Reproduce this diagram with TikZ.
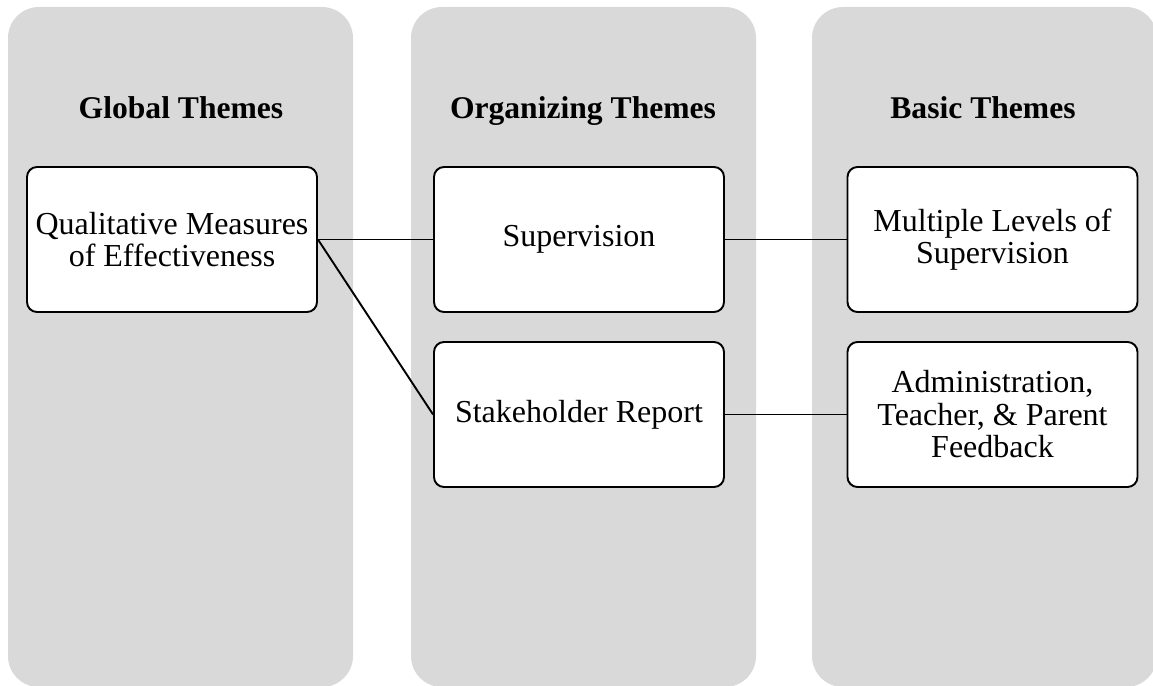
\documentclass[tikz,border=0pt]{standalone}
\usepackage{fontspec}
\setmainfont{Liberation Serif}
\begin{document}
\begin{tikzpicture}[x=1pt,y=-1pt,
  column/.style={fill=colgray, draw=none, rounded corners=31pt},
  heading/.style={font=\fontsize{31.6}{32.5}\selectfont\bfseries, anchor=base, inner sep=0pt},
  themebox/.style={draw=black, line width=1.9pt, fill=white, rounded corners=10pt,
    minimum width=290pt, minimum height=145pt, inner sep=0pt,
    align=center, font=\fontsize{32}{32.5}\selectfont},
  link/.style={draw=black, line width=1.9pt}]
  \definecolor{colgray}{HTML}{D9D9D9}
  \useasboundingbox (0,0) rectangle (1153,685);
  \clip (0,0) rectangle (1153,685);

  % three column panels
  \fill[column] (8,7) rectangle (353,687);
  \fill[column] (411,7) rectangle (756,687);
  \fill[column] (812,7) rectangle (1157,687);

  % column headings
  \node[heading] (hglobal) at (181,118) {Global Themes};
  \node[heading] (horg) at (583,118) {Organizing Themes};
  \node[heading] (hbasic) at (983,118) {Basic Themes};

  % theme boxes
  \node[themebox] (qual) at (172,239.5) {Qualitative Measures\\of Effectiveness};
  \node[themebox] (sup) at (579,239.5) {Supervision};
  \node[themebox] (stake) at (579,414.5) {Stakeholder Report};
  \node[themebox] (levels) at (992.5,239.5) {Multiple Levels of\\Supervision};
  \node[themebox] (admin) at (992.5,414.5) {Administration,\\Teacher, \& Parent\\Feedback};

  % links between themes
  \draw[link] (qual.east) -- (sup.west);
  \draw[link] (qual.east) -- (stake.west);
  \draw[link] (sup.east) -- (levels.west);
  \draw[link] (stake.east) -- (admin.west);
\end{tikzpicture}
\end{document}
